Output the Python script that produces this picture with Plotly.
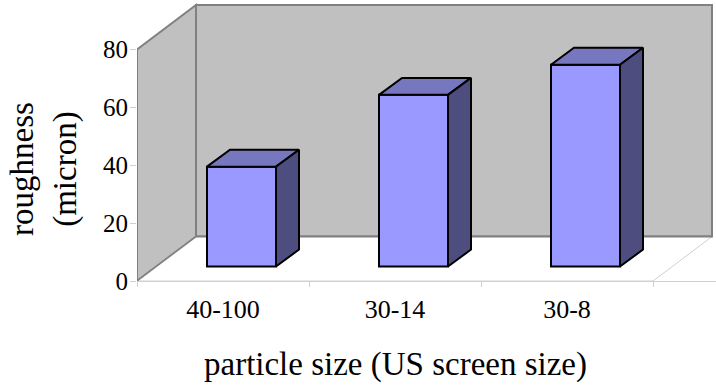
import plotly.graph_objects as go

categories = ["40-100", "30-14", "30-8"]
roughness = [34.5, 59.3, 69.7]
y_ticks = [0, 20, 40, 60, 80]

# Projection geometry, in axis units
PX_X, PX_Y = 172.0, 2.9
BAR_W = 69 / PX_X
FRONT_DX, FRONT_DY = 18.5 / PX_X, 14.5 / PX_Y
BAR_DX, BAR_DY = 23 / PX_X, 17 / PX_Y
WALL_DX, WALL_DY = 59 / PX_X, 44.5 / PX_Y
X0, X1, Y0, Y1 = -0.5, 2.5, 0, 80
WALL_C, EDGE_C, TICK_C = "#C0C0C0", "#808080", "#D0D0D0"

fig = go.Figure()
xs = [i + FRONT_DX for i in range(len(categories))]
fig.add_trace(go.Bar(x=xs, y=roughness, base=FRONT_DY, width=BAR_W,
                     marker=dict(color="#9999FF", line=dict(color="black", width=2)),
                     showlegend=False, hoverinfo="skip"))
for x, v in zip(xs, roughness):
    l, r = x - BAR_W / 2, x + BAR_W / 2
    b, t = FRONT_DY, FRONT_DY + v
    fig.add_trace(go.Scatter(x=[l, r, r + BAR_DX, l + BAR_DX, l],
                             y=[t, t, t + BAR_DY, t + BAR_DY, t],
                             mode="lines", fill="toself", fillcolor="#7777BF",
                             line=dict(color="black", width=2), showlegend=False, hoverinfo="skip"))
    fig.add_trace(go.Scatter(x=[r, r + BAR_DX, r + BAR_DX, r, r],
                             y=[b, b + BAR_DY, t + BAR_DY, t, b],
                             mode="lines", fill="toself", fillcolor="#4D4D80",
                             line=dict(color="black", width=2), showlegend=False, hoverinfo="skip"))

def poly(xv, yv, fill, line, width=1.5):
    path = "M " + " L ".join(f"{a},{b}" for a, b in zip(xv, yv)) + " Z"
    return dict(type="path", path=path, xref="x", yref="y", layer="below",
                fillcolor=fill, line=dict(color=line, width=width))

shapes = [
    poly([X0, X0 + WALL_DX, X0 + WALL_DX, X0], [Y0, Y0 + WALL_DY, Y1 + WALL_DY, Y1], WALL_C, EDGE_C, 2),
    poly([X0 + WALL_DX, X1 + WALL_DX, X1 + WALL_DX, X0 + WALL_DX],
         [WALL_DY, WALL_DY, Y1 + WALL_DY, Y1 + WALL_DY], WALL_C, EDGE_C, 2),
    poly([X0, X1, X1 + WALL_DX, X0 + WALL_DX], [Y0, Y0, WALL_DY, WALL_DY], "white", TICK_C, 1),
]
# grey edges that the floor polygon overpaints
shapes.append(dict(type="line", xref="x", yref="y", layer="below",
                   x0=X0 + WALL_DX, x1=X1 + WALL_DX, y0=WALL_DY, y1=WALL_DY,
                   line=dict(color=EDGE_C, width=2)))
shapes.append(dict(type="line", xref="x", yref="y", layer="below",
                   x0=X0, x1=X0 + WALL_DX, y0=Y0, y1=WALL_DY,
                   line=dict(color=EDGE_C, width=1.5)))

font = "Liberation Serif"
annotations = [
    dict(text="particle size (US screen size)", xref="x", x=1, yref="paper", y=0,
         yshift=-83.5, xanchor="center", yanchor="middle", showarrow=False, font=dict(size=33)),
    dict(text="roughness<br>(micron)", textangle=-90, xref="paper", x=0, xshift=-93,
         yref="paper", y=0, yshift=112, xanchor="center", yanchor="middle",
         showarrow=False, font=dict(size=33)),
]
fig.update_layout(
    width=716, height=385, paper_bgcolor="white", plot_bgcolor="white",
    margin=dict(l=137, r=0, t=0, b=103.5), shapes=shapes, showlegend=False,
    annotations=annotations,
    font=dict(family=font, color="black"),
    xaxis=dict(range=[X0, (716 - 137) / PX_X + X0], tickmode="array",
               tickvals=list(range(len(categories))), ticktext=categories,
               ticklen=0, tickfont=dict(size=26), ticklabelstandoff=5,
               showgrid=False, zeroline=False, showline=True, linecolor=TICK_C, linewidth=1,
               minor=dict(tickmode="array", tickvals=[-0.5, 0.5, 1.5, 2.5], ticks="outside",
                          ticklen=5, tickcolor=TICK_C, showgrid=False),
               automargin=False),
    yaxis=dict(range=[0, 281.5 / PX_Y], tickmode="array", tickvals=y_ticks,
               ticks="outside", ticklen=6, tickcolor=TICK_C, tickfont=dict(size=25),
               ticklabelstandoff=-3,
               showgrid=False, zeroline=False, showline=False,
               automargin=False),
)
fig.write_html("out.html", config=dict(displayModeBar=False),
               post_script="document.body.style.margin='0';")
